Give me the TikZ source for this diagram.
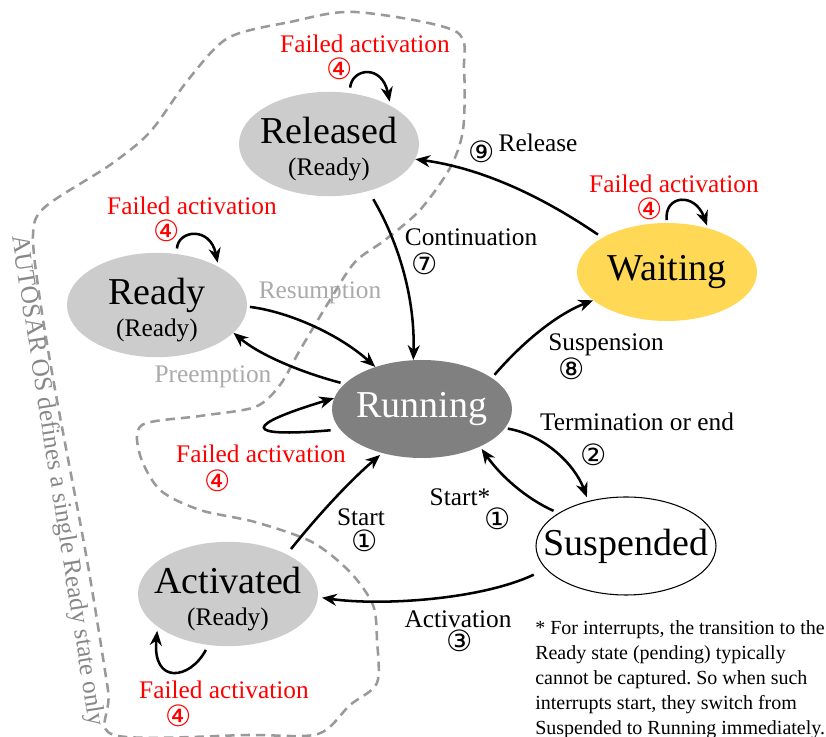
\documentclass[tikz,border=0pt]{standalone}
\usepackage{fontspec}
\setmainfont{Liberation Serif}
\newfontfamily\circfont{DejaVu Sans}
\usepackage{tikz}
\usetikzlibrary{shapes.geometric, arrows.meta}
\definecolor{stategray}{HTML}{CCCCCC}
\definecolor{rungray}{HTML}{808080}
\definecolor{waityellow}{HTML}{FFD955}
\definecolor{fadegray}{HTML}{AAAAAA}
\definecolor{osgray}{HTML}{888888}
\definecolor{linegray}{HTML}{999999}
\newcommand{\readysub}{{\fontsize{19}{20}\selectfont (Ready)}}
\frenchspacing

\begin{document}
\begin{tikzpicture}[
  x=0.75pt, y=-0.75pt,
  state/.style={ellipse, minimum width=135pt, minimum height=73.5pt, inner xsep=-16pt, inner ysep=0pt, align=center, font=\fontsize{28.5}{20.25}\selectfont},
  trans/.style={line width=1.9pt, -{Stealth[length=11pt, width=9pt, inset=3.5pt]}},
  lbl/.style={inner sep=0pt, font=\fontsize{19}{22}\selectfont},
  num/.style={inner sep=0pt, font=\circfont\fontsize{22}{22}\selectfont},
  fail/.style={text=red},
  region/.style={draw=linegray, line width=1.9pt, dash pattern=on 7pt off 4.5pt}
]
\useasboundingbox (0,0) rectangle (826,737);

\draw[region] plot[smooth cycle, tension=0.5] coordinates {
  (228,38) (290,22) (355,12) (455,31) (464,70) (463,130) (450,168) (420,210)
  (385,240) (355,262) (330,300) (300,350) (280,385) (255,407) (200,416) (142,425)
  (140,455) (160,490) (200,510) (255,522) (312,542) (350,572) (373,605) (377,640)
  (377,683) (350,705) (318,734) (250,735) (114,735) (108,690) (87,560) (56,395)
  (40,300) (33,235) (45,207) (110,165) (150,132) (188,80)};

\node[state, fill=stategray] (rel) at (329,144) {\rule{0pt}{27pt}Released\\[4pt]\readysub};
\node[state, fill=stategray] (rdy) at (157,305) {\rule{0pt}{27pt}Ready\\[4pt]\readysub};
\node[state, fill=waityellow] (wait) at (667,272) {Waiting};
\node[state, fill=rungray, text=white] (run) at (422,409) {Running};
\node[state, draw=black, line width=0.8pt] (susp) at (626,546) {Suspended};
\node[state, fill=stategray] (act) at (228,594) {\rule{0pt}{27pt}Activated\\[4pt]\readysub};

\draw[trans, shorten <=7pt] (rel.-50) .. controls (400,245) and (415,300) .. (run.100);
\draw[trans, shorten <=4pt] (wait.152) .. controls (540,195) and (480,168) .. (rel.-10);
\draw[trans, shorten <=3pt] (run.24) .. controls (520,345) and (555,315) .. (wait.201);
\draw[trans, shorten <=2pt, shorten >=3pt] (run.-13) .. controls (545,435) and (575,465) .. (susp.130);
\draw[trans, shorten <=4pt, shorten >=2pt] (susp.154) .. controls (525,498) and (500,475) .. (run.-33);
\draw[trans, shorten <=10pt, shorten >=3pt] (susp.196) .. controls (480,600) and (380,606) .. (act.-2);
\draw[trans, shorten <=5pt, shorten >=2pt] (act.34) .. controls (310,525) and (345,485) .. (run.228);
\draw[trans, shorten <=2pt] (rdy.-1) .. controls (290,312) and (340,335) .. (run.138);
\draw[trans, shorten <=3pt] (run.162) .. controls (300,372) and (260,355) .. (rdy.-20);

\draw[trans, shorten <=7pt] (run.194) .. controls (240,438) and (245,425) .. (run.173);
\draw[trans, shorten <=4pt, shorten >=3pt] (rel.68) .. controls (352,68) and (382,64) .. (rel.32);
\draw[trans, shorten <=4pt, shorten >=3pt] (rdy.69) .. controls (178,230) and (210,226) .. (rdy.32);
\draw[trans, shorten <=2pt, shorten >=2pt] (wait.90) .. controls (664,195) and (695,192) .. (wait.47);
\draw[trans, shorten <=4pt, shorten >=3pt] (act.249) .. controls (190,680) and (152,685) .. (act.205);

\node[lbl, fail] (fa1) at (365,44) {Failed activation};
\node[num, fail] (f1) at (340,69) {④};
\node[lbl, fail] (fa2) at (192,206) {Failed activation};
\node[num, fail] (f2) at (167,231) {④};
\node[lbl, fail] (fa3) at (674,184) {Failed activation};
\node[num, fail] (f3) at (650,209) {④};
\node[lbl, fail] (fa4) at (261,454) {Failed activation};
\node[num, fail] (f4) at (218,481) {④};
\node[lbl, fail] (fa5) at (224,690) {Failed activation};
\node[num, fail] (f5) at (179,716) {④};

\node[lbl] (l7) at (471,237) {Continuation};
\node[num] (n7) at (425,264) {⑦};
\node[lbl] (l9) at (538,143) {Release};
\node[num] (n9) at (482,152) {⑨};
\node[lbl] (l8) at (606,345) {Suspension};
\node[num] (n8) at (572,369) {⑧};
\node[lbl] (l2) at (637,422) {Termination or end};
\node[num] (n2) at (594,455) {②};
\node[lbl] (l1a) at (460,497) {Start*};
\node[num] (n1a) at (498,519) {①};
\node[lbl] (l3) at (458,619) {Activation};
\node[num] (n3) at (460,641) {③};
\node[lbl] (l1b) at (361,517) {Start};
\node[num] (n1b) at (365,541) {①};
\node[lbl, text=fadegray] (lres) at (320,293) {Resumption};
\node[lbl, text=fadegray] (lpre) at (213,377) {Preemption};

\node[lbl, text=osgray, rotate=-81] (os) at (57,481) {AUTOSAR OS defines a single Ready state only};
\node[anchor=north west, inner sep=0pt, align=left, font=\fontsize{15}{18.75}\selectfont] (note) at (535,620)
  {* For interrupts, the transition to the\\Ready state (pending) typically\\cannot be captured. So when such\\interrupts start, they switch from\\Suspended to Running immediately.};
\end{tikzpicture}
\end{document}
